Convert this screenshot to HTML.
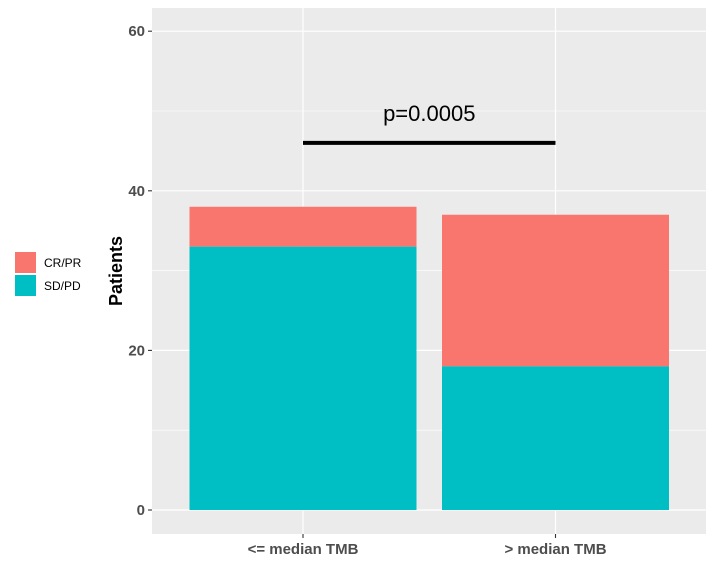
<!DOCTYPE html>
<html><head><meta charset="utf-8"><style>
body{margin:0;background:#fff;font-family:"Liberation Sans",sans-serif}
</style></head><body>
<svg width="714" height="564" xmlns="http://www.w3.org/2000/svg">
<g id="g"></g>
</svg>
<script>
const categories=["<= median TMB","> median TMB"];
const sdpd=[33,18];
const crpr=[5,19];
const yTicks=[0,20,40,60];
const pText="p=0.0005";
const sigY=46;
const ns="http://www.w3.org/2000/svg";
const g=document.getElementById('g');
const L=152,R=706,T=8,B=534;
const y=v=>510-v*7.98;
const xc=i=>303+i*252.5;
const bw=227;
function mk(t,a,p){const e=document.createElementNS(ns,t);for(const k in a)e.setAttribute(k,a[k]);(p||g).appendChild(e);return e;}
let e=mk('rect',{x:L,y:T,width:R-L,height:B-T,fill:'#EBEBEB'});


for(let i=0;i<yTicks.length-1;i++){const m=(yTicks[i]+yTicks[i+1])/2;
e=mk('line',{x1:L,x2:R,y1:y(m),y2:y(m),stroke:'#fff','stroke-width':0.6});

}
yTicks.forEach(t=>{
e=mk('line',{x1:L,x2:R,y1:y(t),y2:y(t),stroke:'#fff','stroke-width':1.2});


e=mk('line',{x1:L-4,x2:L,y1:y(t),y2:y(t),stroke:'#333','stroke-width':1.1});


e=mk('text',{x:L-7,y:y(t)+5,'text-anchor':'end','font-size':15,'font-weight':'bold',fill:'#4D4D4D'});
e.textContent=t;


});
categories.forEach((c,i)=>{
e=mk('line',{x1:xc(i),x2:xc(i),y1:T,y2:B,stroke:'#fff','stroke-width':1.2});


e=mk('rect',{x:xc(i)-bw/2,y:y(sdpd[i]+crpr[i]),width:bw,height:y(sdpd[i])-y(sdpd[i]+crpr[i]),fill:'#F8766D'});


e=mk('rect',{x:xc(i)-bw/2,y:y(sdpd[i]),width:bw,height:y(0)-y(sdpd[i]),fill:'#00BFC4'});


e=mk('line',{x1:xc(i),x2:xc(i),y1:B,y2:B+4,stroke:'#333','stroke-width':1.1});


e=mk('text',{x:xc(i),y:554,'text-anchor':'middle','font-size':15,'font-weight':'bold',fill:'#4D4D4D'});
e.textContent=c;


});
e=mk('line',{x1:xc(0),x2:xc(1),y1:y(sigY),y2:y(sigY),stroke:'#000','stroke-width':4});


e=mk('text',{x:(xc(0)+xc(1))/2,y:y(sigY)-22,'text-anchor':'middle','font-size':22,fill:'#000'});
e.textContent=pText;


e=mk('text',{x:0,y:0,transform:'translate(122,271) rotate(-90)','text-anchor':'middle','font-size':18,'font-weight':'bold',fill:'#000'});
e.textContent='Patients';


[['CR/PR','#F8766D',252],['SD/PD','#00BFC4',275]].forEach(([l,c,yy])=>{
e=mk('rect',{x:15,y:yy,width:21,height:21,fill:c});


e=mk('text',{x:44,y:yy+15,'font-size':12,fill:'#000'});
e.textContent=l;


});
</script>
</body></html>
